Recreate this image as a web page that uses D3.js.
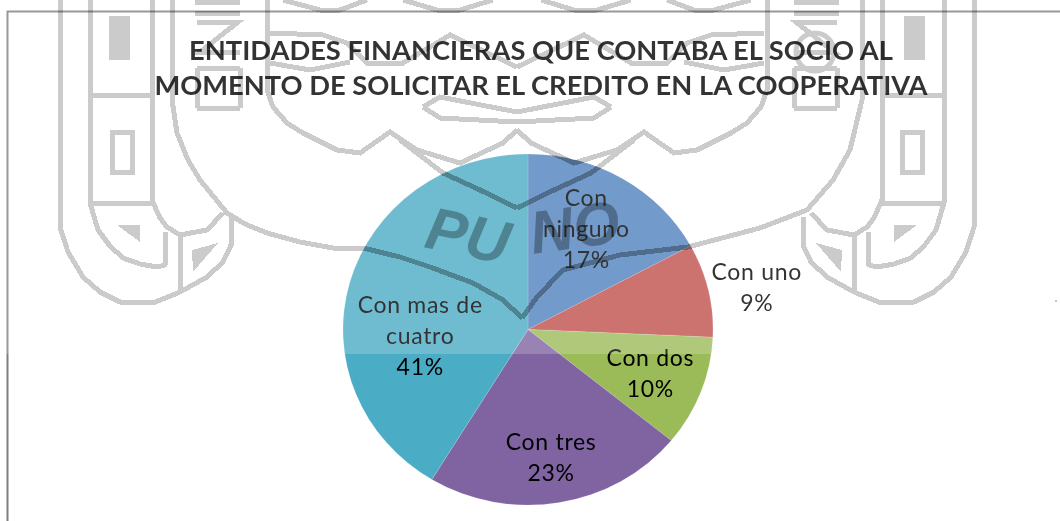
<!DOCTYPE html>
<html><head><meta charset="utf-8">
<script src="https://cdn.jsdelivr.net/npm/d3@7/dist/d3.min.js"></script>
<style>html,body{margin:0;padding:0;background:#fff;overflow:hidden}svg{display:block}</style>
</head><body><div id="c"></div>
<script>
const categories = ["Con ninguno","Con uno","Con dos","Con tres","Con mas de cuatro"];
const values = [17.1,8.6,10.2,22.8,41.3];
const percentLabels = ["17%","9%","10%","23%","41%"];
const colors = ["#4f81bd","#c0504d","#9bbb59","#8064a2","#4bacc6"];
const labelLines = [["Con","ninguno"],["Con uno"],["Con dos"],["Con tres"],["Con mas de","cuatro"]];
const titleLines = ["ENTIDADES FINANCIERAS QUE CONTABA EL SOCIO AL","MOMENTO DE SOLICITAR EL CREDITO EN LA COOPERATIVA"];

const W=1060,H=521,cx=528,cy=329.5,R=185,squash=0.949;
const font="Lato, 'Open Sans', sans-serif";
const svg=d3.select("#c").append("svg").attr("width",W).attr("height",H).style("background","#fff");

// pie (the source picture is slightly stretched sideways, so it is an ellipse)
const pie=d3.pie().value(d=>d).sort(null);
const arc=d3.arc().innerRadius(0).outerRadius(R);
const arcs=pie(values);
const gPie=svg.append("g").attr("transform",`translate(${cx},${cy}) scale(1,${squash})`);
gPie.selectAll("path").data(arcs).join("path").attr("d",arc)
  .attr("fill",(d,i)=>colors[i]).attr("stroke","#fff").attr("stroke-opacity",.2).attr("stroke-width",.7);

// labels
const labelRadius=[121,233,131,137,108], labelTurn=[-2,2,0,0,-19.3];
const lh=30.8;
arcs.forEach((a,i)=>{
  const ang=(a.startAngle+a.endAngle)/2+labelTurn[i]*Math.PI/180;
  const x=cx+labelRadius[i]*Math.sin(ang), y=cy-labelRadius[i]*Math.cos(ang)*squash;
  const lines=[...labelLines[i],percentLabels[i]];
  const y0=y-(lines.length-1)*lh/2;
  svg.append("g").selectAll("text").data(lines).join("text")
    .attr("x",x).attr("y",(d,k)=>y0+k*lh)
    .attr("dy","0.35em").attr("text-anchor","middle")
    .attr("font-family",font).attr("font-size",23).attr("letter-spacing",.7).attr("fill","#000").text(d=>d);
});

// title
svg.append("g").selectAll("text").data(titleLines).join("text")
  .attr("x",541).attr("y",(d,i)=>60+i*35).attr("text-anchor","middle")
  .attr("font-family",font).attr("font-weight",700).attr("font-size",27.3).attr("fill","#000").text(d=>d);

// frame
svg.append("path").attr("d",`M7.5,${H}V11.5H${W}`).attr("fill","none").attr("stroke","#7f7f7f").attr("stroke-width",2);
svg.append("rect").attr("x",1055).attr("y",300).attr("width",2).attr("height",2).attr("fill","#bbb");

// pale wash over the upper part of the picture
svg.append("rect").attr("x",0).attr("y",0).attr("width",W).attr("height",354).attr("fill","#fff").attr("opacity",.2);

// background seal (decoration)
const mid=517;
const halfLines=[
 [[60,0],[60,227],[68,252],[83,277],[100,292],[120,302],[153,303],[180,292],[207,277],[223,262],[231,245],[231,217]],
 [[90,0],[90,203],[98,230],[110,246],[123,258],[140,264],[157,267],[165,265],[166,232]],
 [[152,0],[152,200],[160,218],[167,227],[180,235],[207,230],[223,213]],
 [[90,95],[152,95]],[[90,203],[152,203]],
 [[180,233],[180,290]],
 [[267,0],[267,90],[273,107],[287,123],[303,133],[337,150],[360,153],[390,132],[417,150],[460,163],[503,143],[517,130]],
 [[400,140],[443,173],[480,190],[517,208]],
 [[283,0],[320,10],[340,10],[367,0]],[[403,0],[437,10],[460,10],[493,0]],
 [[270,33],[323,35],[347,43],[367,63],[403,63],[450,35],[517,67]],
 [[270,63],[310,70],[350,62]],
 [[423,107],[440,97],[517,112]],[[423,107],[440,118],[517,122]],
 [[195,2],[240,2]],[[195,13],[240,13]],[[197,22],[238,22],[200,52],[240,52]],[[197,68],[240,68]],[[197,108],[240,108]],[[197,68],[197,108]],[[240,68],[240,108]]
];
const bigCurve=[
 [[172,0],[172,100],[177,133],[188,160],[200,180],[227,213],[245,224],[267,233],[300,242],[333,248],[363,248],[400,257],[430,267],[473,283],[503,300],[522,318]],
 [[522,318],[537,297],[563,270],[620,255],[688,247],[760,228],[807,210],[833,180],[850,150],[862,100],[862,0]]
];
const halfBlocks=[
 [[109,16],[130,16],[130,60],[109,60]],
 [[117,225],[140,225],[140,242]],
 [[192,250],[218,243],[193,272]]
];
const openBoxes=[[112,132,20,40]];
function seal(g,col){
  const line=d3.line();
  const sides=[x=>x,x=>2*mid-x];
  sides.forEach(mx=>{
    const sg=g.append("g").attr("shape-rendering","crispEdges");
    sg.selectAll("path.l").data(halfLines).join("path").attr("class","l")
      .attr("d",d=>line(d.map(p=>[mx(p[0]),p[1]]))).attr("fill","none").attr("stroke",col).attr("stroke-width",5);
    sg.selectAll("path.b").data(halfBlocks).join("path").attr("class","b")
      .attr("d",d=>line(d.map(p=>[mx(p[0]),p[1]]))+"Z").attr("fill",col);
    sg.selectAll("path.o").data(openBoxes).join("path").attr("class","o")
      .attr("d",d=>{const x0=Math.min(mx(d[0]),mx(d[0]+d[2])),x1=Math.max(mx(d[0]),mx(d[0]+d[2]));return `M${x0},${d[1]}H${x1}V${d[1]+d[3]}H${x0}Z`;})
      .attr("fill","none").attr("stroke",col).attr("stroke-width",5);
  });
  g.append("g").attr("shape-rendering","crispEdges").selectAll("path").data(bigCurve).join("path")
    .attr("d",d=>line(d)).attr("fill","none").attr("stroke",col).attr("stroke-width",5);
  g.append("circle").attr("cx",815).attr("cy",52).attr("r",19).attr("fill","none").attr("stroke",col).attr("stroke-width",5);
  [["PU",423,247,12],["NO",533,254,-8]].forEach(t=>{
    g.append("text").text(t[0]).attr("transform",`translate(${t[1]},${t[2]}) rotate(${t[3]})`)
      .attr("font-family","'Liberation Sans',sans-serif").attr("font-weight",700).attr("font-style","italic")
      .attr("font-size",60).attr("fill",col);
  });
}
const wm=svg.append("g").style("mix-blend-mode","multiply");
seal(wm,"#cbcbcb");
svg.append("clipPath").attr("id","pc").append("ellipse").attr("cx",cx).attr("cy",cy).attr("rx",R).attr("ry",R*squash);
const wm2=svg.append("g").attr("clip-path","url(#pc)").style("mix-blend-mode","multiply");
seal(wm2,"#e0e0e0");
</script></body></html>
